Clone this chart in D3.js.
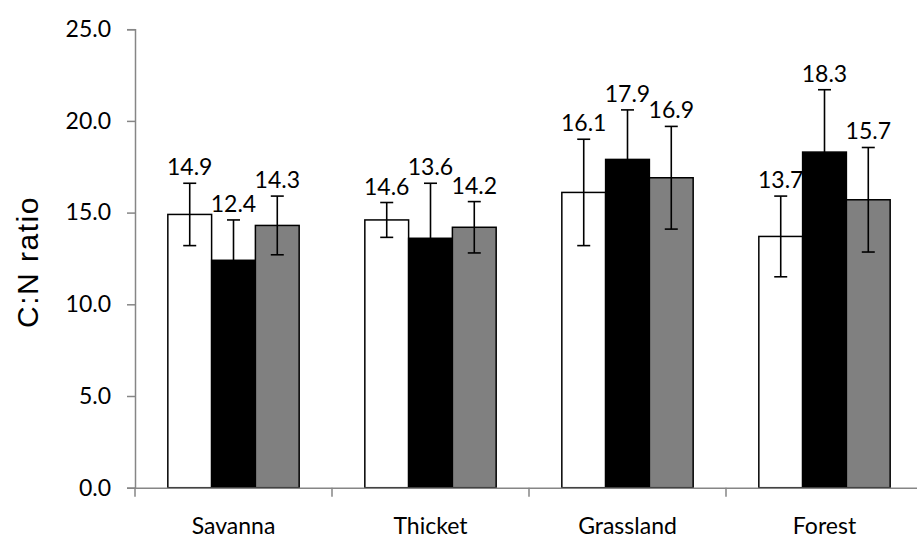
<!DOCTYPE html>
<html>
<head>
<meta charset="utf-8">
<script src="https://cdn.jsdelivr.net/npm/d3@7"></script>
<style>
  html, body { margin: 0; padding: 0; background: #fff; }
  svg { display: block; }
</style>
</head>
<body>
<svg id="chart" width="917" height="541"></svg>
<script>
// C:N ratio by vegetation type, three treatments per site
const categories = ["Savanna", "Thicket", "Grassland", "Forest"];
const seriesNames = ["A", "B", "C"];
const seriesA = [14.9, 14.6, 16.1, 13.7];
const seriesB = [12.4, 13.6, 17.9, 18.3];
const seriesC = [14.3, 14.2, 16.9, 15.7];
const errorA = [1.7, 0.95, 2.9, 2.2];
const errorB = [2.2, 3.0, 2.7, 3.4];
const errorC = [1.6, 1.4, 2.8, 2.85];
const yTicks = [0, 5, 10, 15, 20, 25];
const yTitle = "C:N ratio";

const fills = ["#ffffff", "#000000", "#808080"];
const values = [seriesA, seriesB, seriesC];
const errors = [errorA, errorB, errorC];

const svg = d3.select("#chart");
const axisColor = "#868686";
const labelFont = "Lato, 'Open Sans', sans-serif";

const plotLeft = 135, plotRight = 923;
const yTop = 29.2, yBottom = 487.7;

const x = d3.scaleBand().domain(categories).range([plotLeft, plotRight]).padding(0);
const xInner = d3.scaleBand().domain(seriesNames).range([0, x.bandwidth()])
  .paddingInner(0).paddingOuter(0.75);
const y = d3.scaleLinear().domain([0, 25]).range([yBottom, yTop]);

// Flattened records for drawing
const records = [];
categories.forEach((cat, i) => {
  seriesNames.forEach((s, j) => {
    records.push({ cat, s, j, v: values[j][i], e: errors[j][i] });
  });
});

// Y axis
const yAxis = d3.axisLeft(y).tickValues(yTicks).tickSize(8).tickPadding(16)
  .tickFormat(d3.format(".1f"));
const gy = svg.append("g").attr("transform", `translate(${plotLeft},0)`).call(yAxis);
gy.select(".domain").attr("stroke", axisColor).attr("stroke-width", 1.5);
gy.selectAll(".tick line").attr("stroke", axisColor).attr("stroke-width", 1.5);
gy.selectAll(".tick text").attr("font-family", labelFont).attr("font-size", 23)
  .attr("fill", "#000");

// Bars
svg.append("g").selectAll("rect").data(records).join("rect")
  .attr("x", d => x(d.cat) + xInner(d.s))
  .attr("y", d => y(d.v))
  .attr("width", xInner.bandwidth())
  .attr("height", d => y(0) - y(d.v))
  .attr("fill", d => fills[d.j])
  .attr("stroke", "#000")
  .attr("stroke-width", 1.5);

// X axis
const xAxis = d3.axisBottom(x).tickSize(0).tickPadding(0).tickFormat("");
const gx = svg.append("g").attr("transform", `translate(0,${yBottom})`).call(xAxis);
gx.select(".domain").attr("stroke", axisColor).attr("stroke-width", 1.5);
gx.selectAll(".tick").remove();
const boundaries = categories.map(c => x(c));
gx.selectAll("line.sep").data(boundaries).join("line")
  .attr("class", "sep")
  .attr("x1", d => d).attr("x2", d => d)
  .attr("y1", 0).attr("y2", 9)
  .attr("stroke", axisColor).attr("stroke-width", 1.5);

// Category labels
svg.append("g").selectAll("text").data(categories).join("text")
  .attr("x", d => x(d) + x.bandwidth() / 2)
  .attr("y", 534)
  .attr("text-anchor", "middle")
  .attr("font-family", labelFont)
  .attr("font-size", 23)
  .attr("fill", "#000")
  .text(d => d);

// Error bars
const capHalf = 6.5;
const eg = svg.append("g").attr("stroke", "#000").attr("stroke-width", 1.6);
records.forEach(d => {
  const cx = x(d.cat) + xInner(d.s) + xInner.bandwidth() / 2;
  const yHi = y(d.v + d.e), yLo = y(d.v - d.e);
  eg.append("line").attr("x1", cx).attr("x2", cx).attr("y1", yHi).attr("y2", yLo);
  eg.append("line").attr("x1", cx - capHalf).attr("x2", cx + capHalf).attr("y1", yHi).attr("y2", yHi);
  eg.append("line").attr("x1", cx - capHalf).attr("x2", cx + capHalf).attr("y1", yLo).attr("y2", yLo);
});

// Value labels above the error bars
svg.append("g").selectAll("text").data(records).join("text")
  .attr("x", d => x(d.cat) + xInner(d.s) + xInner.bandwidth() / 2)
  .attr("y", d => y(d.v + d.e) - 8)
  .attr("text-anchor", "middle")
  .attr("font-family", labelFont)
  .attr("font-size", 23)
  .attr("fill", "#000")
  .text(d => d.v.toFixed(1));

// Y axis title
svg.append("text")
  .attr("transform", `translate(38,262) rotate(-90)`)
  .attr("text-anchor", "middle")
  .attr("font-family", "'Liberation Sans', Arial, sans-serif")
  .attr("font-size", 30)
  .attr("letter-spacing", 1.5)
  .attr("fill", "#000")
  .text(yTitle);
</script>
</body>
</html>
